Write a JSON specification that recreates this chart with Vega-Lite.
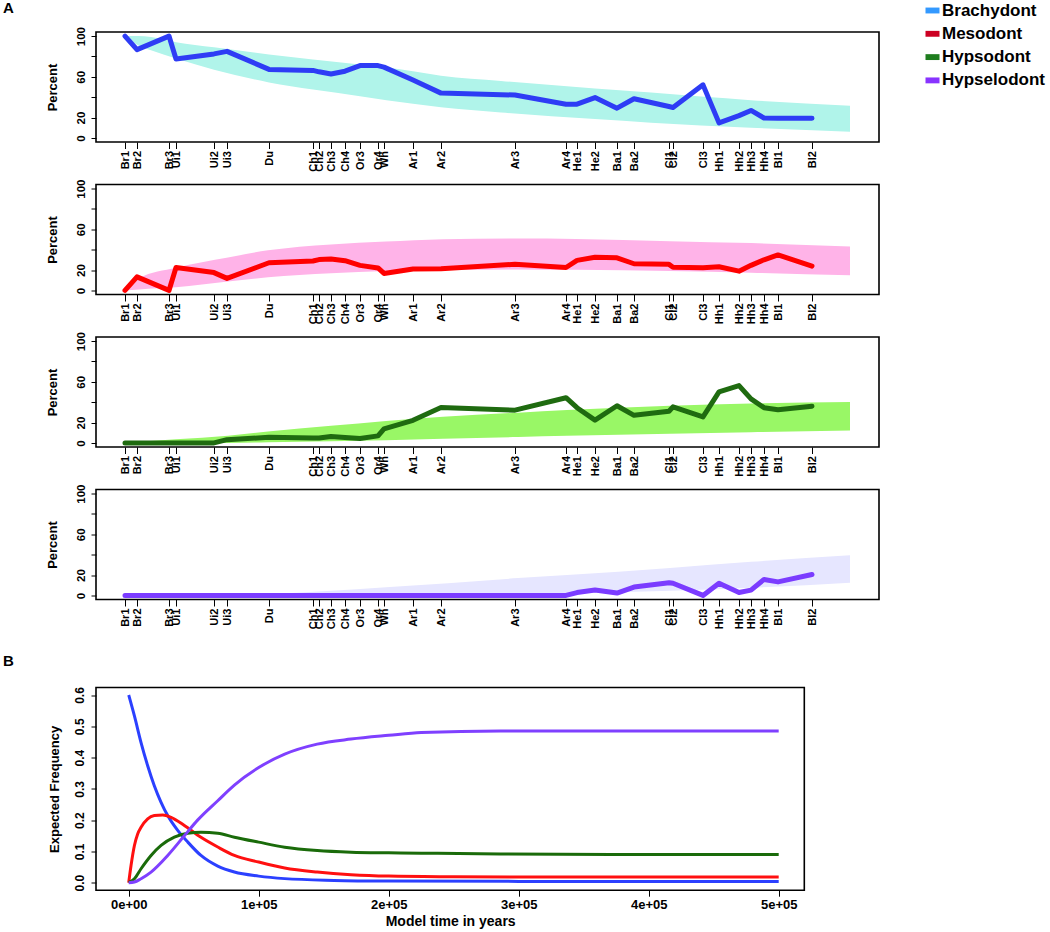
{
  "$schema": "https://vega.github.io/schema/vega-lite/v6.json",
  "padding": {"left": 2, "top": 0, "right": 5, "bottom": 2},
  "bounds": "flush",
  "spacing": 42.5,
  "config": {
    "font": "Liberation Sans",
    "view": {"stroke": "#000", "strokeWidth": 1.6},
    "axis": {"labelFont": "Liberation Sans", "titleFont": "Liberation Sans", "labelFontWeight": "bold", "titleFontWeight": "bold", "labelColor": "#000", "titleColor": "#000", "tickColor": "#000", "domain": false, "grid": false, "labelOverlap": false, "labelFlush": false, "labelBound": false},
    "legend": {"labelFont": "Liberation Sans", "labelFontWeight": "bold", "labelFontSize": 17, "labelColor": "#000", "symbolType": "M-1,-0.42H1V0.42H-1Z", "symbolSize": 196, "symbolStrokeWidth": 0, "labelOffset": 1, "rowPadding": 5.3, "padding": 0},
    "title": {"font": "Liberation Sans", "fontWeight": "bold", "fontSize": 15, "color": "#000"}
  },
  "datasets": {
    "sites": [
      {"site": "Br1", "t": 0, "brachy": 100, "meso": 0, "hypso": 0, "hypsel": 0},
      {"site": "Br2", "t": 12, "brachy": 86.7, "meso": 13.3, "hypso": 0, "hypsel": 0},
      {"site": "Br3", "t": 44, "brachy": 100, "meso": 0, "hypso": 0, "hypsel": 0},
      {"site": "Ui1", "t": 51, "brachy": 77.5, "meso": 22.5, "hypso": 0, "hypsel": 0},
      {"site": "Ui2", "t": 89, "brachy": 82.5, "meso": 17.5, "hypso": 0, "hypsel": 0},
      {"site": "Ui3", "t": 102, "brachy": 85, "meso": 11.8, "hypso": 3.2, "hypsel": 0},
      {"site": "Du", "t": 144, "brachy": 67.3, "meso": 27.2, "hypso": 5.5, "hypsel": 0},
      {"site": "Ch1", "t": 188, "brachy": 66.3, "meso": 28.9, "hypso": 4.8, "hypsel": 0},
      {"site": "Ch2", "t": 194, "brachy": 64.9, "meso": 30.3, "hypso": 4.8, "hypsel": 0},
      {"site": "Ch3", "t": 206, "brachy": 62.8, "meso": 30.9, "hypso": 6.3, "hypsel": 0},
      {"site": "Ch4", "t": 220, "brachy": 65.5, "meso": 29.2, "hypso": 5.3, "hypsel": 0},
      {"site": "Or3", "t": 235, "brachy": 71, "meso": 24.6, "hypso": 4.4, "hypsel": 0},
      {"site": "Or4", "t": 253, "brachy": 71, "meso": 22.1, "hypso": 6.9, "hypsel": 0},
      {"site": "Wh", "t": 259, "brachy": 69.5, "meso": 16.7, "hypso": 13.8, "hypsel": 0},
      {"site": "Ar1", "t": 288, "brachy": 56.8, "meso": 21, "hypso": 22.2, "hypsel": 0},
      {"site": "Ar2", "t": 316, "brachy": 44, "meso": 21.2, "hypso": 34.8, "hypsel": 0},
      {"site": "Ar3", "t": 390, "brachy": 42.1, "meso": 25.7, "hypso": 32.2, "hypsel": 0},
      {"site": "Ar4", "t": 441, "brachy": 33.1, "meso": 22.5, "hypso": 44.4, "hypsel": 0},
      {"site": "He1", "t": 452, "brachy": 33.1, "meso": 29.5, "hypso": 34.6, "hypsel": 2.8},
      {"site": "He2", "t": 470, "brachy": 39.6, "meso": 32.6, "hypso": 22.4, "hypsel": 5.4},
      {"site": "Ba1", "t": 492, "brachy": 29.2, "meso": 32, "hypso": 36.5, "hypsel": 2.3},
      {"site": "Ba2", "t": 509, "brachy": 38.5, "meso": 26.2, "hypso": 27.1, "hypsel": 8.2},
      {"site": "Cl1", "t": 544, "brachy": 30.8, "meso": 25.6, "hypso": 31.1, "hypsel": 12.5},
      {"site": "Cl2", "t": 548, "brachy": 29.9, "meso": 22.8, "hypso": 35.4, "hypsel": 11.9},
      {"site": "Cl3", "t": 578, "brachy": 52.1, "meso": 22.3, "hypso": 25.6, "hypsel": 0},
      {"site": "Hh1", "t": 594, "brachy": 14.8, "meso": 23.2, "hypso": 50.1, "hypsel": 11.9},
      {"site": "Hh2", "t": 614, "brachy": 21.9, "meso": 18.9, "hypso": 56.3, "hypsel": 2.9},
      {"site": "Hh3", "t": 626, "brachy": 27, "meso": 24.6, "hypso": 43.2, "hypsel": 5.2},
      {"site": "Hh4", "t": 639, "brachy": 19.6, "meso": 30.1, "hypso": 34.6, "hypsel": 15.7},
      {"site": "Bl1", "t": 653, "brachy": 19.2, "meso": 34.9, "hypso": 32.6, "hypsel": 13.3},
      {"site": "Bl2", "t": 687, "brachy": 19.4, "meso": 23.9, "hypso": 36.1, "hypsel": 20.6}
    ],
    "bands": [
      {"panel": "brachy", "t": 0, "lo": 100, "hi": 100},
      {"panel": "brachy", "t": 13, "lo": 91, "hi": 100},
      {"panel": "brachy", "t": 26, "lo": 86, "hi": 99},
      {"panel": "brachy", "t": 51, "lo": 78, "hi": 94},
      {"panel": "brachy", "t": 89, "lo": 67, "hi": 89},
      {"panel": "brachy", "t": 144, "lo": 54.5, "hi": 82},
      {"panel": "brachy", "t": 188, "lo": 47.5, "hi": 77},
      {"panel": "brachy", "t": 235, "lo": 41, "hi": 72},
      {"panel": "brachy", "t": 288, "lo": 33.5, "hi": 65.5},
      {"panel": "brachy", "t": 316, "lo": 30, "hi": 61},
      {"panel": "brachy", "t": 376, "lo": 25, "hi": 56},
      {"panel": "brachy", "t": 470, "lo": 18.5, "hi": 48.5},
      {"panel": "brachy", "t": 526, "lo": 15, "hi": 44.5},
      {"panel": "brachy", "t": 626, "lo": 10, "hi": 37},
      {"panel": "brachy", "t": 725, "lo": 6, "hi": 31.5},
      {"panel": "meso", "t": 0, "lo": 0, "hi": 0},
      {"panel": "meso", "t": 14, "lo": 1, "hi": 12},
      {"panel": "meso", "t": 51, "lo": 3, "hi": 22.3},
      {"panel": "meso", "t": 103, "lo": 8.7, "hi": 32.3},
      {"panel": "meso", "t": 143, "lo": 12.9, "hi": 39.4},
      {"panel": "meso", "t": 206, "lo": 16.8, "hi": 45.2},
      {"panel": "meso", "t": 261, "lo": 19, "hi": 48},
      {"panel": "meso", "t": 318, "lo": 20, "hi": 50.3},
      {"panel": "meso", "t": 393, "lo": 20.6, "hi": 51},
      {"panel": "meso", "t": 451, "lo": 20.2, "hi": 50.6},
      {"panel": "meso", "t": 545, "lo": 19, "hi": 48.4},
      {"panel": "meso", "t": 626, "lo": 17.4, "hi": 46.5},
      {"panel": "meso", "t": 725, "lo": 14.8, "hi": 43.2},
      {"panel": "hypso", "t": 0, "lo": 0, "hi": 0},
      {"panel": "hypso", "t": 51, "lo": 0, "hi": 3.5},
      {"panel": "hypso", "t": 103, "lo": 0, "hi": 7},
      {"panel": "hypso", "t": 143, "lo": 0.6, "hi": 11.3},
      {"panel": "hypso", "t": 206, "lo": 1.6, "hi": 16.8},
      {"panel": "hypso", "t": 261, "lo": 2.6, "hi": 21.6},
      {"panel": "hypso", "t": 318, "lo": 4.2, "hi": 25.8},
      {"panel": "hypso", "t": 393, "lo": 5.8, "hi": 29.7},
      {"panel": "hypso", "t": 442, "lo": 7, "hi": 32.3},
      {"panel": "hypso", "t": 545, "lo": 9, "hi": 36.5},
      {"panel": "hypso", "t": 626, "lo": 10.6, "hi": 38.7},
      {"panel": "hypso", "t": 725, "lo": 12.3, "hi": 40.3},
      {"panel": "hypsel", "t": 0, "lo": 0, "hi": 0},
      {"panel": "hypsel", "t": 51, "lo": 0, "hi": 0.2},
      {"panel": "hypsel", "t": 143, "lo": 0, "hi": 1.5},
      {"panel": "hypsel", "t": 261, "lo": 0.5, "hi": 8},
      {"panel": "hypsel", "t": 393, "lo": 1.3, "hi": 17},
      {"panel": "hypsel", "t": 442, "lo": 2, "hi": 20},
      {"panel": "hypsel", "t": 545, "lo": 4.5, "hi": 27},
      {"panel": "hypsel", "t": 626, "lo": 7.5, "hi": 33},
      {"panel": "hypsel", "t": 725, "lo": 12.5, "hi": 39.5}
    ],
    "expected": [
      {"state": "Brachydont", "year": 0, "freq": 0.6},
      {"state": "Brachydont", "year": 4400, "freq": 0.533},
      {"state": "Brachydont", "year": 9500, "freq": 0.448},
      {"state": "Brachydont", "year": 14600, "freq": 0.374},
      {"state": "Brachydont", "year": 19700, "freq": 0.31},
      {"state": "Brachydont", "year": 24900, "freq": 0.257},
      {"state": "Brachydont", "year": 30000, "freq": 0.2145},
      {"state": "Brachydont", "year": 37700, "freq": 0.167},
      {"state": "Brachydont", "year": 45400, "freq": 0.13},
      {"state": "Brachydont", "year": 55600, "freq": 0.087},
      {"state": "Brachydont", "year": 68500, "freq": 0.053},
      {"state": "Brachydont", "year": 81300, "freq": 0.034},
      {"state": "Brachydont", "year": 100000, "freq": 0.021},
      {"state": "Brachydont", "year": 120000, "freq": 0.013},
      {"state": "Brachydont", "year": 158000, "freq": 0.0074},
      {"state": "Brachydont", "year": 200000, "freq": 0.0053},
      {"state": "Brachydont", "year": 300000, "freq": 0.0042},
      {"state": "Brachydont", "year": 400000, "freq": 0.004},
      {"state": "Brachydont", "year": 500000, "freq": 0.004},
      {"state": "Mesodont", "year": 0, "freq": 0},
      {"state": "Mesodont", "year": 1800, "freq": 0.055},
      {"state": "Mesodont", "year": 4400, "freq": 0.119},
      {"state": "Mesodont", "year": 6900, "freq": 0.156},
      {"state": "Mesodont", "year": 9500, "freq": 0.177},
      {"state": "Mesodont", "year": 14600, "freq": 0.204},
      {"state": "Mesodont", "year": 19700, "freq": 0.2145},
      {"state": "Mesodont", "year": 26200, "freq": 0.2166},
      {"state": "Mesodont", "year": 32600, "freq": 0.209},
      {"state": "Mesodont", "year": 42800, "freq": 0.183},
      {"state": "Mesodont", "year": 55600, "freq": 0.145},
      {"state": "Mesodont", "year": 68500, "freq": 0.114},
      {"state": "Mesodont", "year": 81300, "freq": 0.087},
      {"state": "Mesodont", "year": 100000, "freq": 0.066},
      {"state": "Mesodont", "year": 120000, "freq": 0.047},
      {"state": "Mesodont", "year": 145000, "freq": 0.034},
      {"state": "Mesodont", "year": 171000, "freq": 0.0255},
      {"state": "Mesodont", "year": 200000, "freq": 0.021},
      {"state": "Mesodont", "year": 250000, "freq": 0.019},
      {"state": "Mesodont", "year": 300000, "freq": 0.018},
      {"state": "Mesodont", "year": 400000, "freq": 0.018},
      {"state": "Mesodont", "year": 500000, "freq": 0.018},
      {"state": "Hypsodont", "year": 0, "freq": 0},
      {"state": "Hypsodont", "year": 4400, "freq": 0.0127},
      {"state": "Hypsodont", "year": 9500, "freq": 0.0446},
      {"state": "Hypsodont", "year": 17200, "freq": 0.087},
      {"state": "Hypsodont", "year": 24900, "freq": 0.119},
      {"state": "Hypsodont", "year": 35100, "freq": 0.1455},
      {"state": "Hypsodont", "year": 45400, "freq": 0.158},
      {"state": "Hypsodont", "year": 55600, "freq": 0.161},
      {"state": "Hypsodont", "year": 68500, "freq": 0.158},
      {"state": "Hypsodont", "year": 81300, "freq": 0.1455},
      {"state": "Hypsodont", "year": 100000, "freq": 0.1296},
      {"state": "Hypsodont", "year": 120000, "freq": 0.1136},
      {"state": "Hypsodont", "year": 145000, "freq": 0.103},
      {"state": "Hypsodont", "year": 171000, "freq": 0.0977},
      {"state": "Hypsodont", "year": 200000, "freq": 0.0956},
      {"state": "Hypsodont", "year": 225000, "freq": 0.0945},
      {"state": "Hypsodont", "year": 286000, "freq": 0.092},
      {"state": "Hypsodont", "year": 400000, "freq": 0.09},
      {"state": "Hypsodont", "year": 500000, "freq": 0.09},
      {"state": "Hypselodont", "year": 0, "freq": 0},
      {"state": "Hypselodont", "year": 4400, "freq": 0.002},
      {"state": "Hypselodont", "year": 9500, "freq": 0.0127},
      {"state": "Hypselodont", "year": 17200, "freq": 0.034},
      {"state": "Hypselodont", "year": 30000, "freq": 0.087},
      {"state": "Hypselodont", "year": 42800, "freq": 0.15},
      {"state": "Hypselodont", "year": 53000, "freq": 0.2},
      {"state": "Hypselodont", "year": 68500, "freq": 0.262},
      {"state": "Hypselodont", "year": 81300, "freq": 0.312},
      {"state": "Hypselodont", "year": 100000, "freq": 0.368},
      {"state": "Hypselodont", "year": 120000, "freq": 0.411},
      {"state": "Hypselodont", "year": 145000, "freq": 0.443},
      {"state": "Hypselodont", "year": 171000, "freq": 0.459},
      {"state": "Hypselodont", "year": 200000, "freq": 0.471},
      {"state": "Hypselodont", "year": 225000, "freq": 0.48},
      {"state": "Hypselodont", "year": 286000, "freq": 0.485},
      {"state": "Hypselodont", "year": 400000, "freq": 0.485},
      {"state": "Hypselodont", "year": 500000, "freq": 0.485}
    ]
  },
  "vconcat": [
    {
      "width": 783, "height": 110,
      "title": {"text": "A", "anchor": "start", "frame": "group", "dx": -93, "offset": 10},
      "layer": [
        {
          "data": {"name": "bands"},
          "transform": [{"filter": "datum.panel == 'brachy'"}],
          "mark": {"type": "area", "color": "#b0f4ea", "opacity": 1, "interpolate": "monotone", "clip": true},
          "encoding": {
            "x": {"field": "t", "type": "quantitative", "scale": {"domain": [-29, 754], "nice": false, "zero": false},
              "axis": {"title": null, "values": [0,12,44,51,89,102,144,188,194,206,220,235,253,259,288,316,390,441,452,470,492,509,544,548,578,594,614,626,639,653,687], "labelExpr": "({'0':'Br1','12':'Br2','44':'Br3','51':'Ui1','89':'Ui2','102':'Ui3','144':'Du','188':'Ch1','194':'Ch2','206':'Ch3','220':'Ch4','235':'Or3','253':'Or4','259':'Wh','288':'Ar1','316':'Ar2','390':'Ar3','441':'Ar4','452':'He1','470':'He2','492':'Ba1','509':'Ba2','544':'Cl1','548':'Cl2','578':'Cl3','594':'Hh1','614':'Hh2','626':'Hh3','639':'Hh4','653':'Bl1','687':'Bl2'})[datum.value]", "labelAngle": -90, "labelAlign": "right", "labelBaseline": "middle", "labelPadding": 2, "tickSize": 6.5, "labelOverlap": false, "labelFontSize": 11}},
            "y": {"field": "lo", "type": "quantitative", "scale": {"domain": [-4, 104], "nice": false, "zero": false},
              "axis": {"title": "Percent", "titleFontSize": 13, "titlePadding": 16, "values": [0,20,40,60,80,100], "labelExpr": "datum.value == 40 || datum.value == 80 ? '' : datum.label", "labelAngle": -90, "labelAlign": "center", "labelBaseline": "bottom", "labelPadding": 5, "tickSize": 5, "labelOverlap": false, "labelFontSize": 11.5}},
            "y2": {"field": "hi"}
          }
        },
        {
          "data": {"name": "sites"},
          "mark": {"type": "line", "color": "#2e3cf5", "strokeWidth": 5, "strokeJoin": "round", "strokeCap": "round"},
          "encoding": {
            "x": {"field": "t", "type": "quantitative",
              "axis": {"title": null, "values": [0,12,44,51,89,102,144,188,194,206,220,235,253,259,288,316,390,441,452,470,492,509,544,548,578,594,614,626,639,653,687], "labelExpr": "({'0':'Br1','12':'Br2','44':'Br3','51':'Ui1','89':'Ui2','102':'Ui3','144':'Du','188':'Ch1','194':'Ch2','206':'Ch3','220':'Ch4','235':'Or3','253':'Or4','259':'Wh','288':'Ar1','316':'Ar2','390':'Ar3','441':'Ar4','452':'He1','470':'He2','492':'Ba1','509':'Ba2','544':'Cl1','548':'Cl2','578':'Cl3','594':'Hh1','614':'Hh2','626':'Hh3','639':'Hh4','653':'Bl1','687':'Bl2'})[datum.value]", "labelAngle": -90, "labelAlign": "right", "labelBaseline": "middle", "labelPadding": 2, "tickSize": 6.5, "labelOverlap": false, "labelFontSize": 11}},
            "y": {"field": "brachy", "type": "quantitative",
              "axis": {"title": "Percent", "titleFontSize": 13, "titlePadding": 16, "values": [0,20,40,60,80,100], "labelExpr": "datum.value == 40 || datum.value == 80 ? '' : datum.label", "labelAngle": -90, "labelAlign": "center", "labelBaseline": "bottom", "labelPadding": 5, "tickSize": 5, "labelOverlap": false, "labelFontSize": 11.5}}
          }
        },
        {
          "data": {"values": [{"type": "Brachydont"}, {"type": "Mesodont"}, {"type": "Hypsodont"}, {"type": "Hypselodont"}]},
          "mark": {"type": "text", "text": ""},
          "encoding": {
            "color": {"field": "type", "type": "nominal", "scale": {"domain": ["Brachydont", "Mesodont", "Hypsodont", "Hypselodont"], "range": ["#3399ff", "#cc0022", "#1e7d1e", "#8833ff"]},
              "legend": {"title": null, "orient": "none", "legendX": 828, "legendY": -30}}
          }
        }
      ]
    },
    {
      "width": 783, "height": 110,
      "layer": [
        {
          "data": {"name": "bands"},
          "transform": [{"filter": "datum.panel == 'meso'"}],
          "mark": {"type": "area", "color": "#ffb3e8", "opacity": 1, "interpolate": "monotone", "clip": true},
          "encoding": {
            "x": {"field": "t", "type": "quantitative", "scale": {"domain": [-29, 754], "nice": false, "zero": false},
              "axis": {"title": null, "values": [0,12,44,51,89,102,144,188,194,206,220,235,253,259,288,316,390,441,452,470,492,509,544,548,578,594,614,626,639,653,687], "labelExpr": "({'0':'Br1','12':'Br2','44':'Br3','51':'Ui1','89':'Ui2','102':'Ui3','144':'Du','188':'Ch1','194':'Ch2','206':'Ch3','220':'Ch4','235':'Or3','253':'Or4','259':'Wh','288':'Ar1','316':'Ar2','390':'Ar3','441':'Ar4','452':'He1','470':'He2','492':'Ba1','509':'Ba2','544':'Cl1','548':'Cl2','578':'Cl3','594':'Hh1','614':'Hh2','626':'Hh3','639':'Hh4','653':'Bl1','687':'Bl2'})[datum.value]", "labelAngle": -90, "labelAlign": "right", "labelBaseline": "middle", "labelPadding": 2, "tickSize": 6.5, "labelOverlap": false, "labelFontSize": 11}},
            "y": {"field": "lo", "type": "quantitative", "scale": {"domain": [-4, 104], "nice": false, "zero": false},
              "axis": {"title": "Percent", "titleFontSize": 13, "titlePadding": 16, "values": [0,20,40,60,80,100], "labelExpr": "datum.value == 40 || datum.value == 80 ? '' : datum.label", "labelAngle": -90, "labelAlign": "center", "labelBaseline": "bottom", "labelPadding": 5, "tickSize": 5, "labelOverlap": false, "labelFontSize": 11.5}},
            "y2": {"field": "hi"}
          }
        },
        {
          "data": {"name": "sites"},
          "mark": {"type": "line", "color": "#ff0000", "strokeWidth": 5, "strokeJoin": "round", "strokeCap": "round"},
          "encoding": {
            "x": {"field": "t", "type": "quantitative",
              "axis": {"title": null, "values": [0,12,44,51,89,102,144,188,194,206,220,235,253,259,288,316,390,441,452,470,492,509,544,548,578,594,614,626,639,653,687], "labelExpr": "({'0':'Br1','12':'Br2','44':'Br3','51':'Ui1','89':'Ui2','102':'Ui3','144':'Du','188':'Ch1','194':'Ch2','206':'Ch3','220':'Ch4','235':'Or3','253':'Or4','259':'Wh','288':'Ar1','316':'Ar2','390':'Ar3','441':'Ar4','452':'He1','470':'He2','492':'Ba1','509':'Ba2','544':'Cl1','548':'Cl2','578':'Cl3','594':'Hh1','614':'Hh2','626':'Hh3','639':'Hh4','653':'Bl1','687':'Bl2'})[datum.value]", "labelAngle": -90, "labelAlign": "right", "labelBaseline": "middle", "labelPadding": 2, "tickSize": 6.5, "labelOverlap": false, "labelFontSize": 11}},
            "y": {"field": "meso", "type": "quantitative",
              "axis": {"title": "Percent", "titleFontSize": 13, "titlePadding": 16, "values": [0,20,40,60,80,100], "labelExpr": "datum.value == 40 || datum.value == 80 ? '' : datum.label", "labelAngle": -90, "labelAlign": "center", "labelBaseline": "bottom", "labelPadding": 5, "tickSize": 5, "labelOverlap": false, "labelFontSize": 11.5}}
          }
        }
      ]
    },
    {
      "width": 783, "height": 110,
      "layer": [
        {
          "data": {"name": "bands"},
          "transform": [{"filter": "datum.panel == 'hypso'"}],
          "mark": {"type": "area", "color": "#99f766", "opacity": 1, "interpolate": "monotone", "clip": true},
          "encoding": {
            "x": {"field": "t", "type": "quantitative", "scale": {"domain": [-29, 754], "nice": false, "zero": false},
              "axis": {"title": null, "values": [0,12,44,51,89,102,144,188,194,206,220,235,253,259,288,316,390,441,452,470,492,509,544,548,578,594,614,626,639,653,687], "labelExpr": "({'0':'Br1','12':'Br2','44':'Br3','51':'Ui1','89':'Ui2','102':'Ui3','144':'Du','188':'Ch1','194':'Ch2','206':'Ch3','220':'Ch4','235':'Or3','253':'Or4','259':'Wh','288':'Ar1','316':'Ar2','390':'Ar3','441':'Ar4','452':'He1','470':'He2','492':'Ba1','509':'Ba2','544':'Cl1','548':'Cl2','578':'Cl3','594':'Hh1','614':'Hh2','626':'Hh3','639':'Hh4','653':'Bl1','687':'Bl2'})[datum.value]", "labelAngle": -90, "labelAlign": "right", "labelBaseline": "middle", "labelPadding": 2, "tickSize": 6.5, "labelOverlap": false, "labelFontSize": 11}},
            "y": {"field": "lo", "type": "quantitative", "scale": {"domain": [-4, 104], "nice": false, "zero": false},
              "axis": {"title": "Percent", "titleFontSize": 13, "titlePadding": 16, "values": [0,20,40,60,80,100], "labelExpr": "datum.value == 40 || datum.value == 80 ? '' : datum.label", "labelAngle": -90, "labelAlign": "center", "labelBaseline": "bottom", "labelPadding": 5, "tickSize": 5, "labelOverlap": false, "labelFontSize": 11.5}},
            "y2": {"field": "hi"}
          }
        },
        {
          "data": {"name": "sites"},
          "mark": {"type": "line", "color": "#1f6b10", "strokeWidth": 5, "strokeJoin": "round", "strokeCap": "round"},
          "encoding": {
            "x": {"field": "t", "type": "quantitative",
              "axis": {"title": null, "values": [0,12,44,51,89,102,144,188,194,206,220,235,253,259,288,316,390,441,452,470,492,509,544,548,578,594,614,626,639,653,687], "labelExpr": "({'0':'Br1','12':'Br2','44':'Br3','51':'Ui1','89':'Ui2','102':'Ui3','144':'Du','188':'Ch1','194':'Ch2','206':'Ch3','220':'Ch4','235':'Or3','253':'Or4','259':'Wh','288':'Ar1','316':'Ar2','390':'Ar3','441':'Ar4','452':'He1','470':'He2','492':'Ba1','509':'Ba2','544':'Cl1','548':'Cl2','578':'Cl3','594':'Hh1','614':'Hh2','626':'Hh3','639':'Hh4','653':'Bl1','687':'Bl2'})[datum.value]", "labelAngle": -90, "labelAlign": "right", "labelBaseline": "middle", "labelPadding": 2, "tickSize": 6.5, "labelOverlap": false, "labelFontSize": 11}},
            "y": {"field": "hypso", "type": "quantitative",
              "axis": {"title": "Percent", "titleFontSize": 13, "titlePadding": 16, "values": [0,20,40,60,80,100], "labelExpr": "datum.value == 40 || datum.value == 80 ? '' : datum.label", "labelAngle": -90, "labelAlign": "center", "labelBaseline": "bottom", "labelPadding": 5, "tickSize": 5, "labelOverlap": false, "labelFontSize": 11.5}}
          }
        }
      ]
    },
    {
      "width": 783, "height": 110,
      "layer": [
        {
          "data": {"name": "bands"},
          "transform": [{"filter": "datum.panel == 'hypsel'"}],
          "mark": {"type": "area", "color": "#e6e6ff", "opacity": 1, "interpolate": "monotone", "clip": true},
          "encoding": {
            "x": {"field": "t", "type": "quantitative", "scale": {"domain": [-29, 754], "nice": false, "zero": false},
              "axis": {"title": null, "values": [0,12,44,51,89,102,144,188,194,206,220,235,253,259,288,316,390,441,452,470,492,509,544,548,578,594,614,626,639,653,687], "labelExpr": "({'0':'Br1','12':'Br2','44':'Br3','51':'Ui1','89':'Ui2','102':'Ui3','144':'Du','188':'Ch1','194':'Ch2','206':'Ch3','220':'Ch4','235':'Or3','253':'Or4','259':'Wh','288':'Ar1','316':'Ar2','390':'Ar3','441':'Ar4','452':'He1','470':'He2','492':'Ba1','509':'Ba2','544':'Cl1','548':'Cl2','578':'Cl3','594':'Hh1','614':'Hh2','626':'Hh3','639':'Hh4','653':'Bl1','687':'Bl2'})[datum.value]", "labelAngle": -90, "labelAlign": "right", "labelBaseline": "middle", "labelPadding": 2, "tickSize": 6.5, "labelOverlap": false, "labelFontSize": 11}},
            "y": {"field": "lo", "type": "quantitative", "scale": {"domain": [-4, 104], "nice": false, "zero": false},
              "axis": {"title": "Percent", "titleFontSize": 13, "titlePadding": 16, "values": [0,20,40,60,80,100], "labelExpr": "datum.value == 40 || datum.value == 80 ? '' : datum.label", "labelAngle": -90, "labelAlign": "center", "labelBaseline": "bottom", "labelPadding": 5, "tickSize": 5, "labelOverlap": false, "labelFontSize": 11.5}},
            "y2": {"field": "hi"}
          }
        },
        {
          "data": {"name": "sites"},
          "mark": {"type": "line", "color": "#7b3cff", "strokeWidth": 5, "strokeJoin": "round", "strokeCap": "round"},
          "encoding": {
            "x": {"field": "t", "type": "quantitative",
              "axis": {"title": null, "values": [0,12,44,51,89,102,144,188,194,206,220,235,253,259,288,316,390,441,452,470,492,509,544,548,578,594,614,626,639,653,687], "labelExpr": "({'0':'Br1','12':'Br2','44':'Br3','51':'Ui1','89':'Ui2','102':'Ui3','144':'Du','188':'Ch1','194':'Ch2','206':'Ch3','220':'Ch4','235':'Or3','253':'Or4','259':'Wh','288':'Ar1','316':'Ar2','390':'Ar3','441':'Ar4','452':'He1','470':'He2','492':'Ba1','509':'Ba2','544':'Cl1','548':'Cl2','578':'Cl3','594':'Hh1','614':'Hh2','626':'Hh3','639':'Hh4','653':'Bl1','687':'Bl2'})[datum.value]", "labelAngle": -90, "labelAlign": "right", "labelBaseline": "middle", "labelPadding": 2, "tickSize": 6.5, "labelOverlap": false, "labelFontSize": 11}},
            "y": {"field": "hypsel", "type": "quantitative",
              "axis": {"title": "Percent", "titleFontSize": 13, "titlePadding": 16, "values": [0,20,40,60,80,100], "labelExpr": "datum.value == 40 || datum.value == 80 ? '' : datum.label", "labelAngle": -90, "labelAlign": "center", "labelBaseline": "bottom", "labelPadding": 5, "tickSize": 5, "labelOverlap": false, "labelFontSize": 11.5}}
          }
        }
      ]
    },
    {
      "width": 783, "height": 3,
      "view": {"stroke": null},
      "data": {"values": [{}]},
      "mark": {"type": "rule", "opacity": 0},
      "encoding": {}
    },
    {
      "width": 708.3, "height": 202.7,
      "title": {"text": "B", "anchor": "start", "frame": "group", "dx": -93, "offset": 18},
      "data": {"name": "expected"},
      "encoding": {
        "x": {"field": "year", "type": "quantitative", "scale": {"domain": [-25150, 519700], "nice": false, "zero": false},
          "axis": {"title": "Model time in years", "titleFontSize": 14, "titlePadding": 3, "values": [0, 100000, 200000, 300000, 400000, 500000], "labelExpr": "datum.value == 0 ? '0e+00' : format(datum.value / 100000, 'd') + 'e+05'", "labelFontSize": 13, "labelPadding": 2, "tickSize": 6, "labelOverlap": false}},
        "y": {"field": "freq", "type": "quantitative", "scale": {"domain": [-0.024, 0.624], "nice": false, "zero": false},
          "axis": {"title": "Expected Frequency", "titleFontSize": 13, "titlePadding": 12, "values": [0, 0.1, 0.2, 0.3, 0.4, 0.5, 0.6], "format": ".1f", "labelAngle": -90, "labelAlign": "center", "labelBaseline": "bottom", "labelPadding": 5, "tickSize": 5, "labelOverlap": false, "labelFontSize": 12}}
      },
      "layer": [
        {"transform": [{"filter": "datum.state == 'Brachydont'"}], "mark": {"type": "line", "color": "#2b40ff", "strokeWidth": 3, "interpolate": "monotone"}},
        {"transform": [{"filter": "datum.state == 'Mesodont'"}], "mark": {"type": "line", "color": "#ff1010", "strokeWidth": 3, "interpolate": "monotone"}},
        {"transform": [{"filter": "datum.state == 'Hypsodont'"}], "mark": {"type": "line", "color": "#1a6b0a", "strokeWidth": 3, "interpolate": "monotone"}},
        {"transform": [{"filter": "datum.state == 'Hypselodont'"}], "mark": {"type": "line", "color": "#7f40ff", "strokeWidth": 3, "interpolate": "monotone"}}
      ]
    }
  ]
}
